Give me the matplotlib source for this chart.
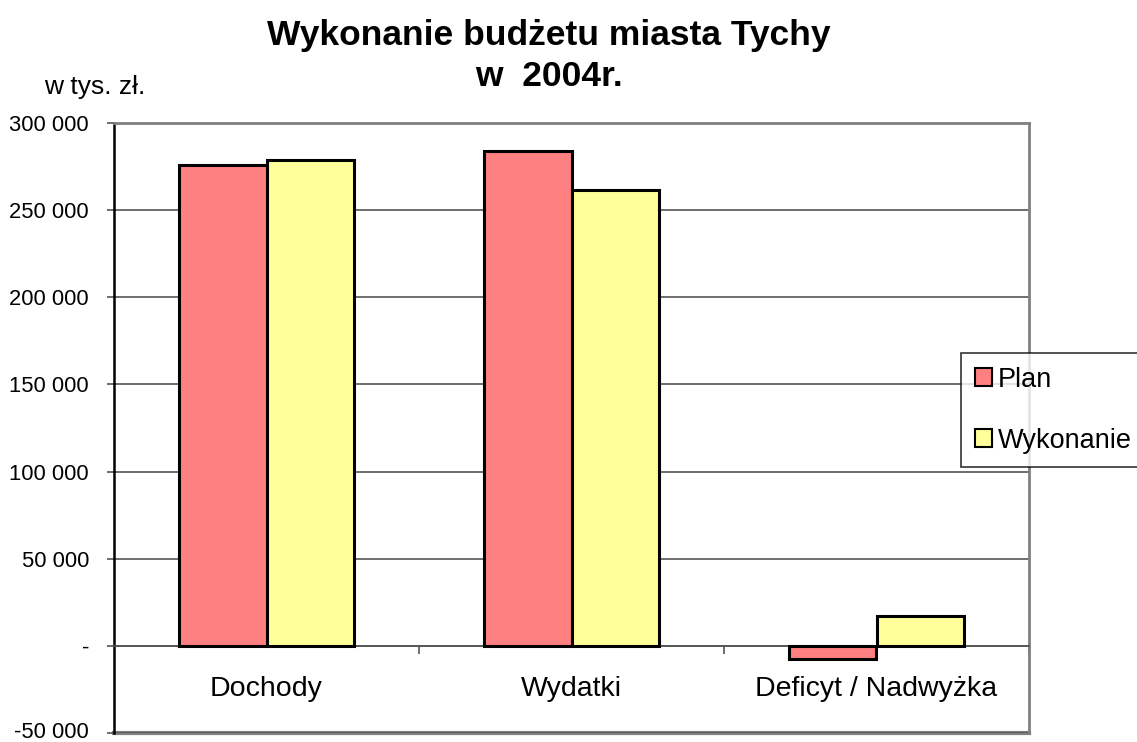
import matplotlib
matplotlib.use("Agg")
import matplotlib.pyplot as plt
import numpy as np
from matplotlib.transforms import ScaledTranslation

categories = ["Dochody", "Wydatki", "Deficyt / Nadwyżka"]
plan = [276000, 283800, -7800]
wykonanie = [278800, 261600, 17400]
series_names = ["Plan", "Wykonanie"]
yticks = [-50000, 0, 50000, 100000, 150000, 200000, 250000, 300000]
ytick_labels = ["-50 000", "-", "50 000", "100 000", "150 000", "200 000", "250 000", "300 000"]

plt.rcParams['font.family'] = ['Liberation Sans', 'DejaVu Sans']

fig = plt.figure(figsize=(11.37, 7.42), dpi=100)
ax = fig.add_axes([114/1137, 1 - 733/742, (1029-114)/1137, (733-123)/742])

x = np.arange(len(categories)) + 0.5
w = 0.288
ax.bar(x - w/2, plan, w, color="#FF8080", edgecolor="black", linewidth=2.2, label=series_names[0], zorder=3)
ax.bar(x + w/2, wykonanie, w, color="#FFFF99", edgecolor="black", linewidth=2.2, label=series_names[1], zorder=3)

ax.set_xlim(0, 3)
ax.set_ylim(-50000, 300000)
ax.set_yticks(yticks)
ax.set_yticklabels(ytick_labels, fontsize=15.8)
ax.yaxis.grid(True, color="#555555", linewidth=1.2, zorder=0)
ax.set_xticks([1, 2, 3])
ax.set_xticklabels([])
ax.tick_params(axis='x', length=6, width=1.2, color="#555555", direction='out')
ax.tick_params(axis='y', length=5, width=1.2, color="#555555", pad=13)
# nudge lowest label slightly up so it stays inside the canvas
lowest = ax.get_yticklabels()[0]
lowest.set_transform(lowest.get_transform() + ScaledTranslation(0, 2/72, fig.dpi_scale_trans))

for i, c in enumerate(categories):
    ax.text(x[i], -24500, c, ha='center', va='center', fontsize=20.5)

ax.spines['left'].set_color("black")
ax.spines['left'].set_linewidth(1.8)
for s in ['right', 'top']:
    ax.spines[s].set_color("#808080")
    ax.spines[s].set_linewidth(2)
ax.spines['bottom'].set_position(('data', 0))
ax.spines['bottom'].set_color("#555555")
ax.spines['bottom'].set_linewidth(1.2)
ax.axhline(-50000, color="#808080", linewidth=3, clip_on=False, zorder=0)

fig.text(549/1137, 1 - 35/742, "Wykonanie budżetu miasta Tychy", ha='center', va='center', fontsize=25.5, fontweight='bold')
fig.text(549/1137, 1 - 77/742, "w  2004r.", ha='center', va='center', fontsize=25.5, fontweight='bold')
fig.text(44/1137, 1 - 87/742, "w tys. zł.", ha='left', va='center', fontsize=19)

leg = fig.legend(loc='upper left', bbox_to_anchor=(961/1137, 1 - 353/742), fontsize=19.5,
                 frameon=True, fancybox=False, edgecolor='black', handlelength=0.65, handleheight=0.65,
                 handletextpad=0.2, labelspacing=1.3, borderpad=0.5, borderaxespad=0)
leg.get_frame().set_linewidth(1.2)
for h in leg.legend_handles:
    h.set_linewidth(1.5)

fig.savefig("out.png", dpi=100)
